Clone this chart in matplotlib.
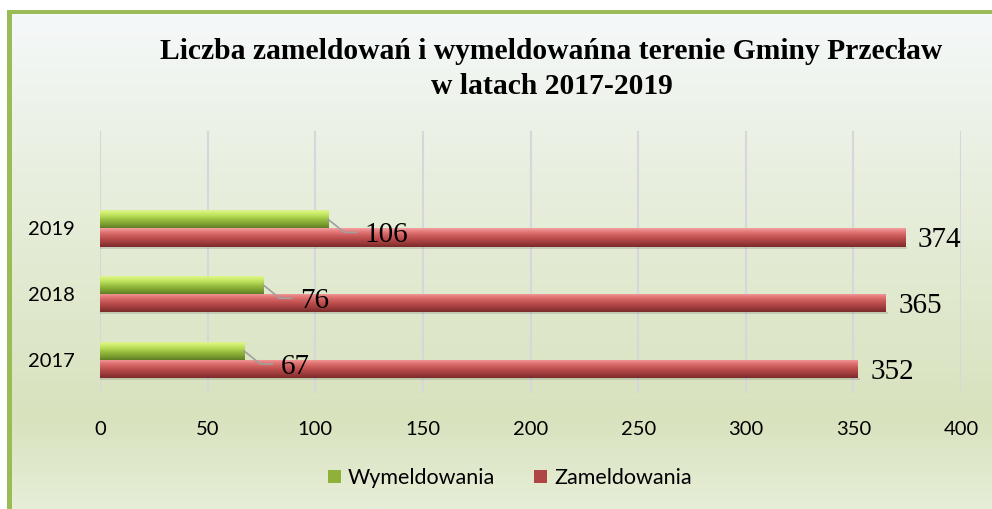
import numpy as np
import matplotlib.pyplot as plt
from matplotlib.colors import LinearSegmentedColormap
from matplotlib.patches import Rectangle

years = ["2017", "2018", "2019"]
wymeldowania = [67, 76, 106]
zameldowania = [352, 365, 374]
title = "Liczba zameldowań i wymeldowańna terenie Gminy Przecław\nw latach 2017-2019"

green_cmap = LinearSegmentedColormap.from_list(
    "g", ["#e2f79a", "#cfee6e", "#b3d853", "#93b93c", "#7c9e30", "#5f7d24"])
red_cmap = LinearSegmentedColormap.from_list(
    "r", ["#f4a0a0", "#e27676", "#cc5c5c", "#b54848", "#9a3a3a", "#7a2a2a"])

fig = plt.figure(figsize=(9.92, 5.09), dpi=100)

# background gradient
bg = fig.add_axes([0, 0, 1, 1], zorder=-10)
bg_cmap = LinearSegmentedColormap.from_list(
    "bg", [(0, "#f6f9fc"), (0.3, "#eaf0e2"), (0.82, "#d8e2bd"), (1, "#e7eed8")])
bg.imshow(np.linspace(0, 1, 256).reshape(-1, 1), aspect="auto", cmap=bg_cmap,
          extent=[0, 1, 0, 1], origin="upper")
bg.set_xlim(0, 1)
bg.set_ylim(0, 1)
bg.axis("off")
# white margin and green frame on the left/top
bg.add_patch(Rectangle((0, 0), 7 / 992, 1, color="white", lw=0))
bg.add_patch(Rectangle((0, 1 - 10 / 509), 1, 10 / 509, color="white", lw=0))
bg.add_patch(Rectangle((7 / 992, 0), 5 / 992, 1 - 10 / 509, color="#9bbb59", lw=0))
bg.add_patch(Rectangle((7 / 992, 1 - 14 / 509), 1, 4 / 509, color="#9bbb59", lw=0))

ax = fig.add_axes([100 / 992, 1 - 393 / 509, 861 / 992, 262 / 509])
ax.set_facecolor("none")

y = np.arange(len(years))
h = 0.275
g_bars = ax.barh(y + h / 2, wymeldowania, height=h, color="#9cc040", lw=0, zorder=3)
r_bars = ax.barh(y - h / 2, zameldowania, height=h, color="#c05050", lw=0, zorder=3)

grad = np.linspace(0, 1, 64).reshape(-1, 1)
for bars, cmap in [(g_bars, green_cmap), (r_bars, red_cmap)]:
    for p in bars:
        x0, y0, w, hh = p.get_x(), p.get_y(), p.get_width(), p.get_height()
        im = ax.imshow(grad, cmap=cmap, aspect="auto", origin="upper",
                       extent=[x0, x0 + w, y0, y0 + hh], zorder=4)
        im.set_clip_path(p)
        # shadow under the bar
        ax.add_patch(Rectangle((x0, y0 - 0.03), w + 1, 0.03, color="#000000",
                               alpha=0.12, lw=0, zorder=2))

for i, (vw, vz) in enumerate(zip(wymeldowania, zameldowania)):
    ax.text(vz + 6, y[i] - h / 2 - 0.04, str(vz), va="center", ha="left",
            fontsize=21, family="Liberation Serif", color="black", zorder=6)
    ax.plot([vw, vw + 7.5, vw + 13], [y[i] + h / 2, y[i] - 0.06, y[i] - 0.06],
            color="#a0a0a0", lw=1.2, zorder=5)
    ax.text(vw + 17, y[i] - 0.1, str(vw), va="center", ha="left",
            fontsize=21, family="Liberation Serif", color="black", zorder=6)

ax.set_xlim(0, 400)
ax.set_ylim(-0.5, 3.48)
ax.set_xticks(range(0, 401, 50))
ax.set_yticks(y)
ax.set_yticklabels(years)
ax.tick_params(axis="both", length=0, labelsize=14.5)
for lab in ax.get_xticklabels() + ax.get_yticklabels():
    lab.set_family("Lato")
ax.tick_params(axis="x", pad=20)
ax.tick_params(axis="y", pad=18)
ax.grid(axis="x", color="#d6d6dc", lw=1.5, zorder=0)
ax.set_axisbelow(True)
for s in ax.spines.values():
    s.set_visible(False)

fig.text(0.556, 1 - 69 / 509, title, ha="center", va="center", fontsize=21.3,
         fontweight="bold", family="Liberation Serif", linespacing=1.35)

leg = fig.legend([g_bars, r_bars], ["Wymeldowania", "Zameldowania"],
                 loc="center", bbox_to_anchor=(0.514, 1 - 478 / 509), ncol=2,
                 frameon=False, handlelength=0.6, handleheight=0.6,
                 handletextpad=0.35, columnspacing=1.8,
                 prop={"family": "Lato", "size": 15.5})
leg.legend_handles[0].set_facecolor("#8fb13a")
leg.legend_handles[0].set_edgecolor("#6a8a28")
leg.legend_handles[1].set_facecolor("#b04545")
leg.legend_handles[1].set_edgecolor("#7a2a2a")

fig.savefig("out.png", dpi=100)
